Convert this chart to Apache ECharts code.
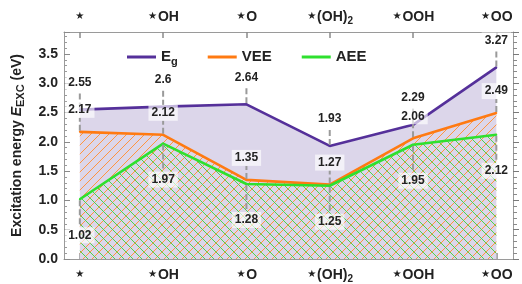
<!DOCTYPE html>
<html>
<head>
<meta charset="utf-8">
<script src="https://cdn.jsdelivr.net/npm/echarts@6/dist/echarts.min.js"></script>
<style>
html, body { margin: 0; padding: 0; background: #fff; }
#main { width: 522px; height: 284px; }
</style>
</head>
<body>
<div id="main"></div>
<script>
// adsorption sites, {st|..} is the star, {s|..} a subscript
const sites = ['{st|⋆}', '{st|⋆}OH', '{st|⋆}O', '{st|⋆}(OH){s|2}', '{st|⋆}OOH', '{st|⋆}OO']
const eg = [2.55, 2.6, 2.64, 1.93, 2.29, 3.27]
const vee = [2.17, 2.12, 1.35, 1.27, 2.06, 2.49]
const aee = [1.02, 1.97, 1.28, 1.25, 1.95, 2.12]
const yTicks = [0, 0.5, 1, 1.5, 2, 2.5, 3, 3.5]

const siteIdx = sites.map((s, i) => i)
const font = 'Liberation Sans, Arial, DejaVu Sans, sans-serif'

// diagonal hatch tile, dir 1 = "/" , dir -1 = "\"
function hatch(color, dir) {
    const c = document.createElement('canvas')
    c.width = 9
    c.height = 9
    const ctx = c.getContext('2d')
    ctx.strokeStyle = color
    ctx.lineWidth = 1
    const segs = dir > 0
        ? [[-1, 1, 1, -1], [0, 9, 9, 0], [8, 10, 10, 8]]
        : [[-1, 8, 1, 10], [0, 0, 9, 9], [8, -1, 10, 1]]
    segs.forEach((s) => {
        ctx.beginPath()
        ctx.moveTo(s[0], s[1])
        ctx.lineTo(s[2], s[3])
        ctx.stroke()
    })
    return { image: c, repeat: 'repeat' }
}

const subStyle = { fontSize: 10, lineHeight: 10, verticalAlign: 'bottom', fontWeight: 'bold', color: '#222', fontFamily: font }
const starStyle = { fontSize: 17, lineHeight: 18, fontWeight: 'bold', color: '#222', fontFamily: 'DejaVu Sans' }

const labelBase = {
    show: true,
    position: 'inside',
    fontSize: 12,
    fontWeight: 'bold',
    fontFamily: font,
    color: '#222',
    backgroundColor: 'rgba(255,255,255,0.65)',
    padding: [2, 3]
}
const leader = { show: true, lineStyle: { color: '#9a9a9a', width: 2, type: [6, 3] } }

function makeSeries(name, values, color, area, dy, z) {
    return {
        name: name,
        type: 'line',
        data: values.map((v, i) => [i, v]),
        symbol: 'circle',
        symbolSize: 2,
        showSymbol: true,
        z: z,
        lineStyle: { color: color, width: 2.6 },
        itemStyle: { color: color },
        areaStyle: { color: area, opacity: 1 },
        label: labelBase,
        labelLayout: { dy: dy },
        labelLine: leader,
        emphasis: { disabled: true }
    }
}

function xAxisAt(pos, margin) {
    return {
        type: 'value',
        position: pos,
        min: -0.19,
        max: 5.2,
        axisLine: { onZero: false, lineStyle: { color: '#9a9a9a', width: 1 } },
        axisTick: { inside: true, length: 6, customValues: siteIdx, lineStyle: { color: '#8a8a8a', width: 1.5 } },
        axisLabel: {
            customValues: siteIdx,
            formatter: (v) => sites[Math.round(v)],
            fontSize: 14,
            fontWeight: 'bold',
            fontFamily: font,
            color: '#222',
            lineHeight: 18,
            margin: margin,
            rich: { s: subStyle, st: starStyle }
        },
        splitLine: { show: false }
    }
}

function yAxisAt(pos, extra) {
    return Object.assign({
        type: 'value',
        position: pos,
        min: 0,
        max: 3.874,
        interval: 0.5,
        axisLine: { show: true, onZero: false, lineStyle: { color: '#9a9a9a', width: 1 } },
        splitLine: { show: false }
    }, extra)
}

const chart = echarts.init(document.getElementById('main'))
chart.setOption({
    animation: false,
    grid: { left: 61, right: 9, top: 32, bottom: 24 },
    legend: {
        data: ['Eg', 'VEE', 'AEE'],
        left: 122,
        top: 42,
        icon: 'rect',
        itemWidth: 29,
        itemHeight: 3,
        itemGap: 30,
        formatter: (name) => (name === 'Eg' ? 'E{s|g}' : name),
        textStyle: {
            fontSize: 15,
            fontWeight: 'bold',
            fontFamily: font,
            color: '#222',
            lineHeight: 20,
            rich: { s: { fontSize: 11, lineHeight: 11, verticalAlign: 'bottom', fontWeight: 'bold', color: '#222', fontFamily: font } }
        }
    },
    xAxis: [xAxisAt('bottom', 7), xAxisAt('top', 6)],
    yAxis: [
        yAxisAt('left', {
            name: '{n|Excitation energy }{i|E}{s|EXC}{n| (eV)}',
            nameLocation: 'middle',
            nameGap: 38,
            nameTextStyle: {
                lineHeight: 18,
                rich: {
                    n: { fontSize: 14, fontWeight: 'bold', fontFamily: font, color: '#222', lineHeight: 18 },
                    i: { fontSize: 14, fontWeight: 'bold', fontStyle: 'italic', fontFamily: font, color: '#222', lineHeight: 18 },
                    s: { fontSize: 11, lineHeight: 11, verticalAlign: 'bottom', fontWeight: 'bold', fontFamily: font, color: '#222' }
                }
            },
            axisTick: { show: true, inside: true, length: 6, lineStyle: { color: '#8a8a8a' } },
            minorTick: { show: true, splitNumber: 5, length: 3, lineStyle: { color: '#9a9a9a' } },
            axisLabel: {
                customValues: yTicks,
                formatter: (v) => v.toFixed(1),
                fontSize: 14,
                fontWeight: 'bold',
                fontFamily: font,
                color: '#222',
                margin: 6
            }
        }),
        yAxisAt('right', {
            axisTick: { show: true, inside: false, length: 6, lineStyle: { color: '#7a7a7a', width: 1 } },
            minorTick: { show: true, splitNumber: 5, length: 4, lineStyle: { color: '#8a8a8a', width: 1 } },
            axisLabel: { show: false }
        })
    ],
    series: [
        makeSeries('Eg', eg, '#55309a', '#dcd6ea', -27, 2),
        makeSeries('VEE', vee, '#ff7a12', hatch('#ff9440', 1), -22, 3),
        makeSeries('AEE', aee, '#2ee02e', hatch('#4cd24c', -1), 36, 4)
    ]
})
</script>
</body>
</html>
